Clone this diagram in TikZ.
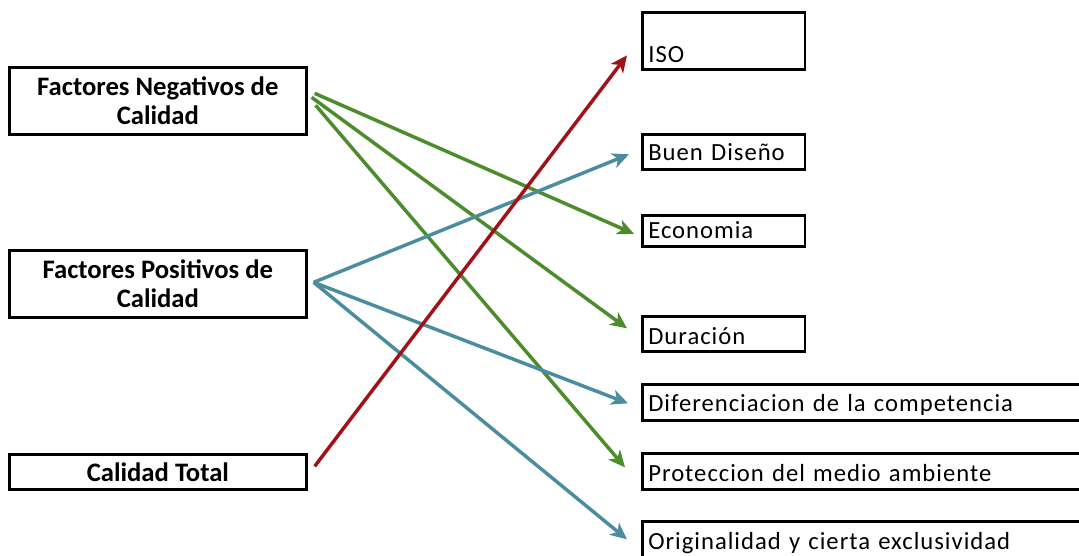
\documentclass[tikz,border=0pt]{standalone}
\usepackage{fontspec}
\setmainfont{Carlito}
\newfontfamily\espaciada[LetterSpace=4]{Carlito}
\usepackage{xcolor}
\usepackage{tikz}
\usetikzlibrary{calc}
\usetikzlibrary{arrows.meta,positioning}

\definecolor{flechaverde}{RGB}{76,140,43}
\definecolor{flechaazul}{RGB}{75,141,158}
\definecolor{flecharoja}{RGB}{160,18,24}

\tikzset{
	cajaizq/.style={draw,line width=2pt,anchor=north west,minimum width=222.75pt,align=center,font=\fontsize{20}{22}\selectfont\bfseries},
	cajader/.style={draw,line width=2pt,anchor=north west,inner ysep=0pt,inner xsep=4.5pt,align=left,font=\espaciada\fontsize{18.5}{22}\selectfont},
	corta/.style={cajader,text width=113pt},
	larga/.style={cajader,text width=330pt},
	flecha/.style={line width=2.6pt,-{Stealth[length=12.5pt,width=11.5pt,inset=3.5pt]}}
}

\begin{document}
\begin{tikzpicture}[x=0.75pt,y=-0.75pt]
	\useasboundingbox (0,0) rectangle (1079,556);
	\node[cajaizq,minimum height=50.25pt] (neg) at (8,66) {Factores Negativos de\\Calidad};
	\node[cajaizq,minimum height=50.25pt] (pos) at (8,249) {Factores Positivos de\\Calidad};
	\node[cajaizq,minimum height=26.25pt] (total) at (8,453) {Calidad Total};
	\node[corta,text height=37.5pt,text depth=5.25pt] (iso) at (641,11) {ISO};
	\node[corta,text height=19.5pt,text depth=6.75pt] (buen) at (641,133) {Buen Diseño};
	\node[corta,text height=17.25pt,text depth=6pt] (eco) at (641,214) {Economia};
	\node[corta,text height=21pt,text depth=5.25pt] (dur) at (641,315) {Duración};
	\node[larga,text height=20.25pt,text depth=6.75pt] (dif) at (641,383) {Diferenciacion de la competencia};
	\node[larga,text height=21pt,text depth=6pt] (prot) at (641,452) {Proteccion del medio ambiente};
	\node[larga,text height=21pt,text depth=7.5pt] (orig) at (641,520) {Originalidad y cierta exclusividad};
	\draw[flecha,flechaverde] ($(neg.east)+(7,-7.5)$) -- ($(eco.west)+(-7,3)$);
	\draw[flecha,flechaverde] ($(neg.east)+(4,-3.5)$) -- ($(dur.west)+(-14,-5.5)$);
	\draw[flecha,flechaverde] ($(neg.east)+(8,4.5)$) -- ($(prot.west)+(-16,-4)$);
	\draw[flecha,flechaazul] ($(pos.east)+(6,-1.5)$) -- ($(buen.west)+(-12,2.5)$);
	\draw[flecha,flechaazul] ($(pos.east)+(6,-1.5)$) -- ($(dif.west)+(-13,1)$);
	\draw[flecha,flechaazul] ($(pos.east)+(6,-1.5)$) -- ($(orig.west)+(-14,-1)$);
	\draw[flecha,flecharoja] ($(total.east)+(7,-5.5)$) -- ($(iso.west)+(-14,14.5)$);
\end{tikzpicture}
\end{document}
